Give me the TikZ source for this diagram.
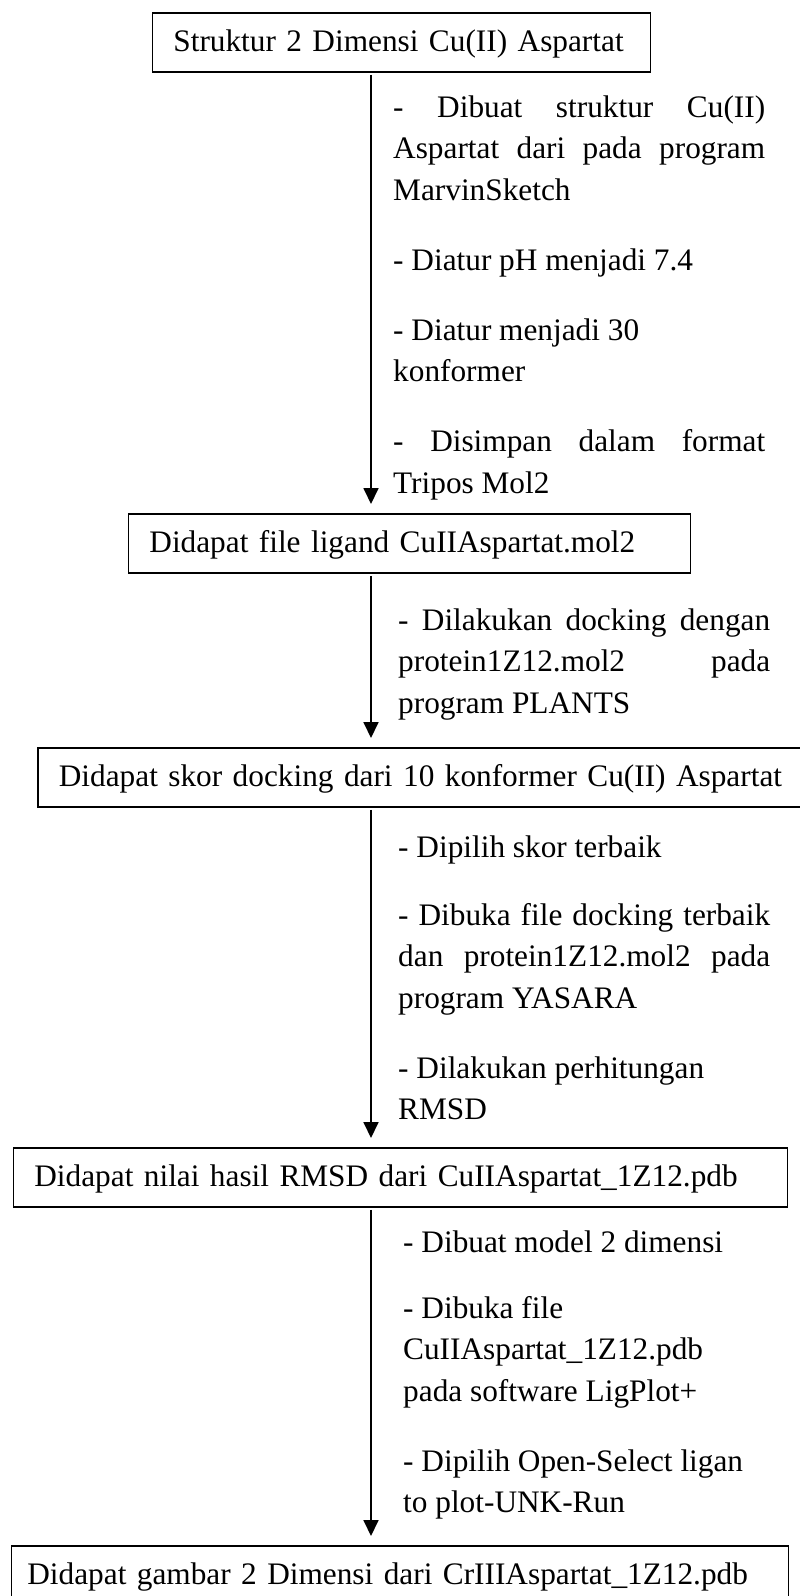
\documentclass[tikz,border=0pt]{standalone}
\usepackage{fontspec}
\setmainfont[Ligatures={TeX,NoCommon}]{Liberation Serif}
\usetikzlibrary{arrows.meta}
\newcommand{\jl}[1]{\makebox[372pt][s]{#1}}
\begin{document}
\begin{tikzpicture}[x=1pt,y=-1pt,
  txt/.style={font=\fontsize{31.3}{38}\selectfont},
  box/.style={txt, draw, line width=1.8pt, anchor=north west, inner xsep=21pt,
    inner ysep=0pt, minimum height=59pt, align=left, text height=26pt, text depth=7pt},
  ln/.style={txt, anchor=base west, inner sep=0pt},
  arr/.style={line width=1.8pt, -{Triangle[length=16pt,width=15pt]},
    shorten >=9pt, shorten <=2pt}]
\useasboundingbox (0,0) rectangle (800,1596);
\fill[white] (0,0) rectangle (800,1596);

% boxes
\node[box, text width=456pt] (b1) at (151.5,12) {\mbox{Struktur 2 Dimensi Cu(II) Aspartat}};
\node[box, text width=520pt] (b2) at (127.5,513) {\mbox{Didapat file ligand CuIIAspartat.mol2}};
\node[box, text width=724pt] (b3) at (37,747) {\mbox{Didapat skor docking dari 10 konformer Cu(II) Aspartat}};
\node[box, text width=732pt] (b4) at (12.5,1147) {\mbox{Didapat nilai hasil RMSD dari CuIIAspartat\_1Z12.pdb}};
\node[box, inner xsep=16pt, text width=745pt] (b5) at (10.5,1545) {\mbox{Didapat gambar 2 Dimensi dari CrIIIAspartat\_1Z12.pdb}};

% arrows
\coordinate (ax) at (371,0);
\draw[arr] (ax |- b1.south) -- (ax |- b2.north);
\draw[arr] (ax |- b2.south) -- (ax |- b3.north);
\draw[arr] (ax |- b3.south) -- (ax |- b4.north);
\draw[arr] (ax |- b4.south) -- (ax |- b5.north);

% group 1
\node[ln] (t11) at (393,117) {\jl{- Dibuat struktur Cu(II)}};
\node[ln] (t12) at (393,158.5) {\jl{Aspartat dari pada program}};
\node[ln] (t13) at (393,200) {MarvinSketch};
\node[ln] (t14) at (393,270) {- Diatur pH menjadi 7.4};
\node[ln] (t15) at (393,340) {- Diatur menjadi 30};
\node[ln] (t16) at (393,381.5) {konformer};
\node[ln] (t17) at (393,451.5) {\jl{- Disimpan dalam format}};
\node[ln] (t18) at (393,493) {Tripos Mol2};

% group 2
\node[ln] (t21) at (398,630) {\jl{- Dilakukan docking dengan}};
\node[ln] (t22) at (398,671.5) {\jl{protein1Z12.mol2 pada}};
\node[ln] (t23) at (398,713) {program PLANTS};

% group 3
\node[ln] (t31) at (398,857) {- Dipilih skor terbaik};
\node[ln] (t32) at (398,925) {\jl{- Dibuka file docking terbaik}};
\node[ln] (t33) at (398,966.5) {\jl{dan protein1Z12.mol2 pada}};
\node[ln] (t34) at (398,1008) {program YASARA};
\node[ln] (t35) at (398,1078) {- Dilakukan perhitungan};
\node[ln] (t36) at (398,1119.5) {RMSD};

% group 4
\node[ln] (t41) at (403,1252) {- Dibuat model 2 dimensi};
\node[ln] (t42) at (403,1318) {- Dibuka file};
\node[ln] (t43) at (403,1359.5) {CuIIAspartat\_1Z12.pdb};
\node[ln] (t44) at (403,1401) {pada software LigPlot+};
\node[ln] (t45) at (403,1471) {- Dipilih Open-Select ligan};
\node[ln] (t46) at (403,1512.5) {to plot-UNK-Run};
\end{tikzpicture}
\end{document}
